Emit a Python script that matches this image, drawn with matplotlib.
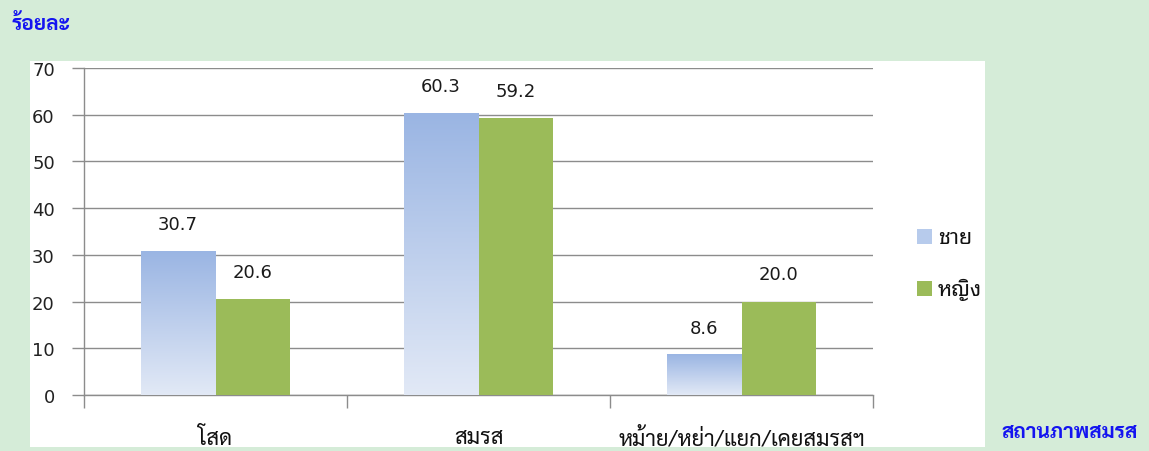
import numpy as np
import matplotlib
matplotlib.use("Agg")
import matplotlib.pyplot as plt
from matplotlib.colors import LinearSegmentedColormap
from matplotlib.patches import Rectangle

categories = ["โสด", "สมรส", "หม้าย/หย่า/แยก/เคยสมรสฯ"]
male = [30.7, 60.3, 8.6]
female = [20.6, 59.2, 20.0]
series_names = ["ชาย", "หญิง"]
yticks = [0, 10, 20, 30, 40, 50, 60, 70]

W, H = 1149, 452
bg = "#D5ECD8"
blue_txt = "#1414F0"
grid_col = "#8C8C8C"
green = "#9BBB59"
thai = ["Noto Sans Thai Looped", "DejaVu Sans"]
thai_bold = ["Sarabun", "DejaVu Sans"]
thai_cond = ["Sarabun", "DejaVu Sans"]

fig = plt.figure(figsize=(W / 100, H / 100), dpi=100, facecolor=bg)

# white chart panel
fig.patches.append(Rectangle((30 / W, 1 - 448 / H), (985 - 30) / W, (448 - 62) / H,
                             transform=fig.transFigure, facecolor="white",
                             edgecolor="none", zorder=-5))

ax = fig.add_axes([84 / W, 1 - 396 / H, (873 - 84) / W, (396 - 69) / H])
ax.set_zorder(2)
ax.set_facecolor("none")

x = np.arange(len(categories))
bw = 0.285
grad = LinearSegmentedColormap.from_list("m", ["#E2E9F6", "#9AB5E3"])
gimg = np.linspace(0, 1, 256).reshape(-1, 1)

for xi, v in zip(x, male):
    x0 = xi - bw
    ax.imshow(gimg, extent=(x0, xi, 0, v), origin="lower", cmap=grad,
              aspect="auto", zorder=3, interpolation="bicubic")
    ax.text(xi - bw / 2, v + 5.8, f"{v:.1f}", ha="center", va="center",
            fontsize=13, color="#1a1a1a")
ax.bar(x + bw / 2, female, width=bw, color=green, zorder=3)
for xi, v in zip(x, female):
    ax.text(xi + bw / 2, v + 5.8, f"{v:.1f}", ha="center", va="center",
            fontsize=13, color="#1a1a1a")

ax.set_xlim(-0.5, 2.5)
ax.set_ylim(0, 70)
ax.set_yticks(yticks)
ax.set_yticklabels([str(t) for t in yticks], fontsize=13, color="#222222")
ax.yaxis.grid(True, color=grid_col, linewidth=1.0, zorder=1)
ax.set_axisbelow(True)
ax.tick_params(axis="y", length=9, width=1, color=grid_col, pad=12)

ax.set_xticks(x)
ax.set_xticklabels([])
ax.set_xticks(np.arange(-0.5, 3, 1), minor=True)
ax.tick_params(axis="x", which="major", length=0)
ax.tick_params(axis="x", which="minor", length=9, width=1, color=grid_col)
for xi, lab in zip(x, categories):
    ax.text(xi, -9.2, lab, ha="center", va="center", fontsize=15.8,
            family=thai_cond, color="#111111", clip_on=False)

for s in ["top", "right"]:
    ax.spines[s].set_visible(False)
for s in ["left", "bottom"]:
    ax.spines[s].set_color(grid_col)
    ax.spines[s].set_linewidth(1)

# legend
lx = 917 / W
for i, (name, col) in enumerate(zip(series_names, ["#B7CBEC", green])):
    cy = 1 - (238 + 52 * i) / H
    fig.patches.append(Rectangle((lx, cy - 7 / H), 15 / W, 15 / H,
                                 transform=fig.transFigure, facecolor=col,
                                 edgecolor="none"))
    fig.text(lx + 21 / W, cy, name, ha="left", va="center", fontsize=15.5,
             family=thai, color="#111111")

fig.text(12 / W, 1 - 24 / H, "ร้อยละ", ha="left", va="center", fontsize=15,
         family=thai_bold, fontweight="bold", color=blue_txt)
fig.text(1138 / W, 1 - 433 / H, "สถานภาพสมรส", ha="right", va="center",
         fontsize=15, family=thai_bold, fontweight="bold", color=blue_txt)

fig.savefig("out.png", dpi=100, facecolor=bg)
